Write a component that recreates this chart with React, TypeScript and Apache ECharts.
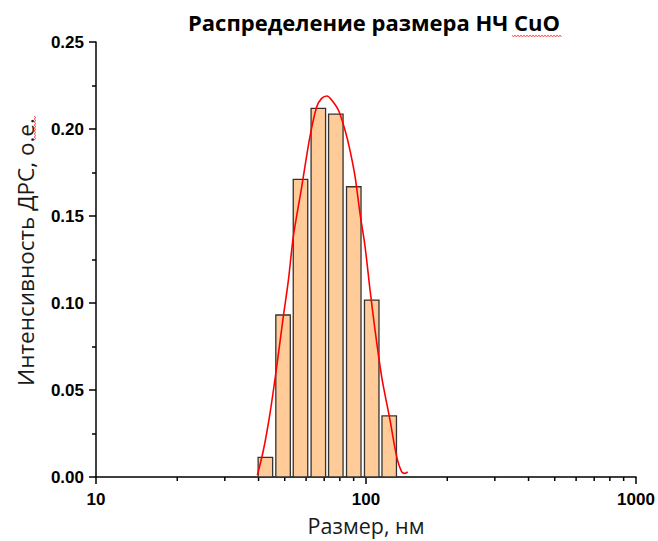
import React, { useEffect, useRef } from "react";
import * as echarts from "echarts";

// Particle size histogram (DLS), bin centres in nm
const binCenters = [42.4, 49.3, 57.2, 66.6, 77.3, 90.1, 105.0, 121.9];
const intensities = [0.0113, 0.0931, 0.1711, 0.2119, 0.2086, 0.1668, 0.1017, 0.0351];

// Fitted distribution curve
const fitSizes = [
  39.6, 41.7, 44.1, 46.7, 49.2, 51.6, 53.8, 57.8, 62.0, 65.7, 68.5, 71.7, 74.6, 79.0,
  83.6, 87.2, 91.1, 95.0, 99.2, 103.5, 108.0, 114.3, 122.7, 129.9, 135.6, 139.5, 142.7,
];
const fitValues = [
  0.0011, 0.0155, 0.0366, 0.0634, 0.0902, 0.1132, 0.1381, 0.1668, 0.1956, 0.2128, 0.2176,
  0.219, 0.2167, 0.2109, 0.1994, 0.1879, 0.1726, 0.1515, 0.1324, 0.1075, 0.0845, 0.0576,
  0.0328, 0.0117, 0.003, 0.0021, 0.003,
];

// Axis ticks
const xMinorTicks = [20, 30, 40, 50, 60, 70, 80, 90, 200, 300, 400, 500, 600, 700, 800, 900];

const TITLE = "Распределение размера НЧ CuO";
const X_NAME = "Размер, нм";
const Y_NAME = "Интенсивность ДРС, о.е.";

function squiggle(x0: number, y0: number, len: number, vertical: boolean) {
  const pts: number[][] = [];
  const step = 1.5;
  let k = 0;
  for (let d = 0; d <= len; d += step, k++) {
    const off = k % 2 === 0 ? -1 : 1;
    pts.push(vertical ? [x0 + off, y0 + d] : [x0 + d, y0 + off]);
  }
  return pts;
}

export default function App() {
  const ref = useRef<HTMLDivElement>(null);

  useEffect(() => {
    if (!ref.current) return;
    const chart = echarts.init(ref.current, null, { renderer: "svg" });
    const tickFont = "'Liberation Sans', Arial, sans-serif";
    const textFont = "'Open Sans', sans-serif";

    chart.setOption({
      animation: false,
      backgroundColor: "#ffffff",
      grid: {
        left: 96,
        right: 22,
        top: 42,
        bottom: 64,
        containLabel: false,
        outerBoundsMode: "none",
      },
      xAxis: {
        type: "log",
        logBase: 10,
        min: 10,
        max: 1000,
        name: X_NAME,
        nameLocation: "middle",
        nameGap: 37,
        nameTextStyle: { fontFamily: textFont, fontSize: 21.5, lineHeight: 22, color: "#1a1a1a" },
        axisLine: { show: true, lineStyle: { color: "#000", width: 1.5 } },
        axisTick: { show: true, length: 7, lineStyle: { color: "#000", width: 1.5 } },
        axisLabel: {
          fontFamily: tickFont,
          fontWeight: "bold",
          fontSize: 17,
          color: "#000",
          margin: 14,
          formatter: (v: number) => String(Math.round(v)),
        },
        splitLine: { show: false },
      },
      yAxis: {
        type: "value",
        min: 0,
        max: 0.25,
        interval: 0.05,
        axisLine: { show: true, lineStyle: { color: "#000", width: 1.5 } },
        axisTick: { show: true, length: 7, lineStyle: { color: "#000", width: 1.5 } },
        minorTick: { show: true, splitNumber: 2, length: 4, lineStyle: { color: "#000", width: 1.5 } },
        axisLabel: {
          fontFamily: tickFont,
          fontWeight: "bold",
          fontSize: 17,
          color: "#000",
          margin: 12,
          formatter: (v: number) => v.toFixed(2),
        },
        splitLine: { show: false },
        minorSplitLine: { show: false },
      },
      series: [
        {
          type: "custom",
          name: "minorTicks",
          clip: false,
          silent: true,
          data: xMinorTicks.map((v) => [v, 0]),
          renderItem: (_p: any, api: any) => {
            const p = api.coord([api.value(0), 0]);
            return {
              type: "line",
              shape: { x1: p[0], y1: p[1], x2: p[0], y2: p[1] + 4 },
              style: { stroke: "#000", lineWidth: 1.5 },
            };
          },
          z: 1,
        },
        {
          type: "custom",
          name: "histogram",
          data: binCenters.map((c, i) => [c, intensities[i]]),
          renderItem: (_p: any, api: any) => {
            const top = api.coord([api.value(0), api.value(1)]);
            const base = api.coord([api.value(0), 0]);
            const w = 14.5;
            return {
              type: "rect",
              shape: { x: top[0] - w / 2, y: top[1], width: w, height: base[1] - top[1] },
              style: { fill: "#FFCC99", stroke: "#333333", lineWidth: 1.3 },
            };
          },
          z: 2,
        },
        {
          type: "line",
          name: "fit",
          data: fitSizes.map((s, i) => [s, fitValues[i]]),
          smooth: 0.3,
          showSymbol: false,
          symbol: "none",
          lineStyle: { color: "#FF0000", width: 1.6 },
          z: 3,
        },
      ],
      graphic: [
        {
          type: "text",
          x: 374,
          y: 22,
          style: {
            text: TITLE,
            fontFamily: textFont,
            fontWeight: "bold",
            fontSize: 22,
            fill: "#000",
            align: "center",
            verticalAlign: "middle",
          },
        },
        {
          type: "polyline",
          shape: { points: squiggle(512, 36, 50, false) },
          style: { stroke: "#FF3333", lineWidth: 0.8, fill: null },
        },
        {
          type: "text",
          x: 25,
          y: 252,
          rotation: Math.PI / 2,
          style: {
            text: Y_NAME,
            fontFamily: textFont,
            fontSize: 22.5,
            fill: "#1a1a1a",
            align: "center",
            verticalAlign: "middle",
          },
        },
        {
          type: "polyline",
          shape: { points: squiggle(35, 116, 24, true) },
          style: { stroke: "#FF3333", lineWidth: 0.8, fill: null },
        },
      ],
    });

    return () => chart.dispose();
  }, []);

  return (
    <div
      ref={ref}
      style={{ position: "fixed", left: 0, top: 0, width: 658, height: 541, background: "#fff" }}
    />
  );
}
